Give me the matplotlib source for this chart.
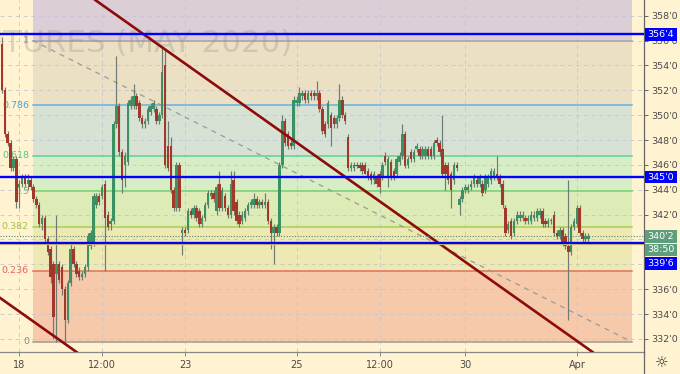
import matplotlib
matplotlib.use('Agg')
import matplotlib.pyplot as plt
import matplotlib.transforms as mtransforms
from matplotlib.lines import Line2D
from matplotlib.patches import Rectangle

# ---------------- data (prices of each hourly bar) ----------------
opens = [355.75, 352.0, 348.5, 347.75, 345.75, 346.5, 344.25, 344.5, 345.0, 344.5,
         344.75, 344.25, 343.25, 342.75, 341.25, 341.75, 340.0, 339.25, 338.0, 337.25,
         338.0, 337.75, 336.0, 333.5, 336.5, 339.25, 338.0, 337.5, 337.0, 337.25,
         337.75, 339.5, 339.75, 342.75, 343.5, 343.5, 344.5, 342.0, 341.25, 341.5,
         349.25, 350.75, 347.0, 346.0, 346.25, 350.75, 350.75, 351.5, 351.0, 349.75,
         349.25, 349.5, 350.25, 350.5, 350.5, 349.5, 350.0, 354.0, 347.5, 347.5,
         344.0, 342.5, 346.0, 340.5, 340.75, 340.75, 342.25, 342.0, 342.5, 342.25,
         341.25, 341.75, 342.75, 343.5, 343.75, 342.25, 344.5, 342.5, 343.5, 342.5,
         342.0, 344.75, 343.0, 342.0, 341.5, 341.75, 342.25, 342.75, 342.75, 343.25,
         342.75, 343.0, 342.75, 343.0, 341.5, 340.5, 341.0, 340.5, 346.0, 349.5,
         348.5, 347.75, 347.5, 351.0, 351.0, 351.5, 351.75, 351.25, 351.75, 351.75,
         351.5, 351.75, 350.5, 349.25, 349.25, 350.0, 349.75, 349.25, 349.75, 351.25,
         350.0, 348.25, 345.75, 345.75, 346.0, 346.0, 346.0, 346.0, 345.5, 345.25,
         344.75, 345.0, 345.25, 345.0, 346.75, 345.0, 346.25, 345.5, 345.25, 346.25,
         346.75, 348.5, 346.0, 347.0, 346.5, 347.25, 347.25, 346.75, 346.75, 347.25,
         347.25, 346.75, 348.0, 347.75, 347.25, 346.0, 346.0, 345.25, 344.75, 346.0,
         342.75, 343.25, 344.0, 344.0, 344.25, 344.5, 344.75, 344.5, 344.5, 344.0,
         344.5, 344.75, 345.0, 345.25, 345.0, 344.5, 342.5, 340.75, 341.5, 340.5,
         341.5, 341.75, 341.75, 341.75, 341.5, 341.5, 341.75, 341.75, 342.0, 342.25,
         341.5, 341.25, 341.5, 342.0, 340.5, 340.25, 340.75, 340.25, 339.5, 339.0,
         341.0, 341.25, 342.5, 340.5, 340.0, 340.0]
highs = [356.25, 352.25, 348.75, 348.0, 346.75, 346.75, 344.75, 345.25, 345.25, 345.25,
         345.0, 344.5, 343.5, 343.0, 342.0, 342.0, 340.25, 339.5, 338.25, 342.0,
         338.25, 338.0, 336.25, 336.75, 339.75, 339.5, 338.25, 337.75, 337.5, 338.0,
         340.5, 340.75, 343.75, 343.75, 343.75, 344.5, 344.75, 342.25, 341.75, 349.5,
         354.75, 351.0, 347.25, 347.0, 351.25, 351.5, 352.5, 351.75, 351.25, 350.0,
         349.75, 350.75, 351.0, 351.25, 350.75, 350.25, 355.5, 355.25, 349.5, 348.25,
         344.25, 346.25, 346.25, 341.0, 341.0, 342.5, 342.5, 342.75, 342.75, 342.5,
         342.0, 343.0, 344.0, 344.0, 344.0, 344.5, 345.5, 344.25, 343.75, 342.75,
         345.5, 345.5, 343.25, 342.25, 342.25, 342.5, 343.0, 343.25, 343.75, 343.5,
         343.25, 343.25, 343.75, 343.25, 341.75, 341.25, 341.25, 346.25, 350.0, 349.75,
         348.75, 348.0, 351.5, 351.5, 352.25, 352.0, 352.0, 352.0, 352.0, 352.0,
         352.75, 352.0, 350.75, 349.5, 351.25, 350.25, 350.0, 350.0, 352.5, 351.5,
         350.25, 348.5, 346.25, 346.25, 346.25, 346.25, 346.25, 346.25, 345.75, 345.5,
         345.5, 345.25, 345.5, 346.25, 347.0, 346.75, 346.5, 345.75, 346.75, 347.0,
         349.25, 348.75, 346.75, 347.25, 347.25, 347.75, 347.5, 347.5, 347.5, 347.5,
         347.5, 348.0, 348.25, 348.0, 350.0, 346.25, 346.25, 345.5, 346.25, 346.25,
         343.5, 344.25, 344.5, 344.5, 344.75, 345.25, 345.0, 345.25, 344.75, 345.25,
         345.25, 345.75, 345.75, 346.75, 345.25, 344.75, 342.75, 341.5, 341.75, 341.75,
         342.25, 342.25, 342.25, 342.0, 342.0, 342.25, 342.25, 342.5, 342.5, 342.5,
         341.75, 341.75, 341.75, 342.25, 340.75, 341.0, 341.0, 340.5, 344.75, 341.25,
         341.75, 342.75, 342.75, 340.75, 340.5, 340.5]
lows = [351.75, 348.25, 347.5, 345.5, 345.5, 342.5, 342.5, 344.25, 344.25, 344.0,
        344.0, 343.0, 342.5, 341.0, 340.75, 339.75, 338.75, 336.5, 332.0, 331.75,
        336.5, 335.5, 331.75, 333.25, 336.25, 337.75, 337.0, 336.75, 336.75, 337.0,
        337.5, 339.25, 339.5, 342.5, 342.75, 343.25, 337.5, 340.75, 340.75, 341.25,
        349.0, 346.75, 343.75, 344.25, 346.0, 350.5, 350.5, 350.5, 349.5, 349.0,
        349.0, 349.25, 350.0, 350.25, 349.25, 349.25, 349.75, 345.75, 345.5, 343.75,
        342.25, 342.25, 342.25, 338.75, 340.25, 340.5, 341.75, 341.75, 341.5, 341.0,
        341.0, 341.5, 342.5, 343.25, 343.0, 342.0, 342.25, 342.25, 342.25, 341.75,
        341.75, 342.0, 341.25, 341.0, 341.25, 341.5, 342.0, 342.5, 342.5, 342.5,
        342.5, 342.5, 342.5, 341.25, 339.25, 338.0, 340.25, 340.25, 345.75, 347.5,
        347.25, 347.25, 347.25, 350.75, 350.75, 351.25, 351.0, 351.0, 351.25, 351.25,
        351.25, 350.25, 348.5, 348.25, 349.0, 347.5, 349.0, 349.0, 349.5, 349.75,
        349.25, 345.5, 345.5, 345.5, 345.75, 345.5, 345.25, 345.25, 344.75, 344.5,
        344.5, 344.25, 343.75, 344.75, 346.0, 344.25, 344.75, 344.75, 345.0, 346.0,
        346.5, 345.75, 345.75, 346.25, 346.25, 347.0, 346.5, 346.5, 346.5, 346.5,
        346.5, 346.5, 347.5, 346.75, 345.0, 344.0, 344.5, 342.5, 344.5, 345.5,
        342.0, 343.0, 343.75, 343.75, 344.0, 344.25, 344.25, 344.25, 343.5, 343.75,
        344.25, 344.5, 344.75, 344.75, 344.25, 342.5, 340.25, 340.5, 340.0, 340.25,
        341.25, 341.5, 341.5, 341.25, 341.25, 341.25, 341.5, 341.5, 341.75, 341.0,
        341.0, 341.0, 341.25, 340.25, 340.0, 340.0, 339.5, 339.25, 333.5, 338.75,
        340.75, 341.0, 340.25, 339.75, 339.75, 339.75]
closes = [352.0, 348.5, 347.75, 345.75, 346.5, 343.0, 344.5, 345.0, 344.5, 344.75,
          344.25, 343.25, 342.75, 341.25, 341.75, 340.0, 339.0, 337.0, 333.75, 338.0,
          336.75, 336.0, 333.5, 336.5, 339.25, 338.0, 337.25, 337.0, 337.25, 337.75,
          340.25, 340.5, 343.5, 343.5, 343.0, 344.25, 341.75, 341.0, 341.5, 349.25,
          350.75, 347.0, 344.75, 346.75, 351.0, 351.25, 351.5, 350.75, 349.75, 349.25,
          349.5, 350.5, 350.75, 351.0, 349.5, 350.0, 353.5, 346.0, 345.75, 344.0,
          342.5, 346.0, 342.5, 340.75, 340.5, 342.25, 342.0, 342.5, 341.75, 341.25,
          341.75, 342.75, 343.75, 343.75, 343.25, 344.25, 342.5, 344.0, 342.5, 342.0,
          344.5, 342.25, 341.5, 341.25, 342.0, 342.25, 342.75, 343.0, 343.25, 342.75,
          343.0, 342.75, 343.0, 341.5, 340.5, 341.0, 340.5, 346.0, 349.5, 347.75,
          347.5, 347.5, 351.25, 351.25, 351.75, 351.75, 351.25, 351.75, 351.5, 351.5,
          351.75, 350.5, 348.75, 348.5, 351.0, 349.0, 349.25, 349.75, 351.25, 350.0,
          349.5, 345.75, 346.0, 346.0, 345.9, 345.75, 345.5, 345.25, 345.0, 344.75,
          345.25, 344.5, 344.25, 346.0, 346.25, 346.5, 345.0, 345.0, 346.5, 346.75,
          348.5, 345.9, 346.5, 346.5, 347.0, 347.5, 346.75, 347.25, 347.25, 346.75,
          346.75, 347.75, 347.75, 347.0, 345.25, 345.25, 344.75, 344.0, 346.0, 345.75,
          343.25, 344.0, 344.25, 344.25, 344.5, 345.0, 344.5, 345.0, 343.75, 345.0,
          345.0, 345.5, 345.5, 345.0, 344.5, 342.75, 340.5, 341.25, 340.25, 341.5,
          342.0, 342.0, 342.0, 341.5, 341.75, 342.0, 342.0, 342.25, 342.25, 341.25,
          341.25, 341.5, 341.5, 340.5, 340.25, 340.75, 339.75, 339.5, 339.0, 341.0,
          341.5, 342.5, 340.5, 340.0, 340.25, 340.25]

x_tick_bars = [6, 35, 64, 103, 132, 162, 201]
x_tick_labels = ['18', '12:00', '23', '25', '12:00', '30', 'Apr']
price_ticks = [332, 334, 336, 338, 340, 342, 344, 346, 348, 350, 352, 354, 356, 358]
hidden_price_labels = [338, 340]   # covered by the price boxes in the reference

fib_low = 331.75
fib_high = 356.0
fib_bars = [10.8, 220.3]
fib_ratios = [0, 0.236, 0.382, 0.5, 0.618, 0.786, 1, 1.272]
fib_labels = ['0', '0.236', '0.382', '0.5', '0.618', '0.786', '1', '']

blue_levels = [356.5, 345.0, 339.75]
blue_texts = ["356'4", "345'0", "339'6"]
yellow_level = 339.6
last_price = 340.25
last_text = "340'2"
countdown_text = "38:50"
trend_points = [(33.6, 359.1), (200.0, 332.0)]
parallel_point = (-0.7, 335.3)
watermark = "CORN FUTURES (MAY 2020)"

# ---------------- styling ----------------
BG = '#FFF3D1'
UP = '#3B9161'
DN = '#A3382A'
WICK = '#6f7b72'
BLUE = '#0000FF'
GREEN_BOX = '#5E9E7C'
fib_line_colors = ['#9c9c9c', '#e2705f', '#a9cf52', '#72d46c', '#5fcf9c', '#62b2e0', '#a8a0a6', '#a8a0a6']
fib_label_colors = ['#8c8c8c', '#e0685a', '#a3c444', '#5fc85c', '#52c48f', '#4da3d8', '#999999', '#999999']
fib_fill_colors = ['#F5C9AA', '#EEE8B2', '#DDEBB6', '#D7EDC6', '#D7E2D4', '#EBDFC4', '#DCCED6']

W, H = 680, 374
fig = plt.figure(figsize=(W / 100, H / 100), dpi=100, facecolor=BG)
ax = fig.add_axes([0, 22 / H, 644 / W, 352 / H])
ax.set_facecolor(BG)

step = 2.86
ax.set_xlim(-2 / step, (644 - 2) / step)
px_per_unit = 12.43
ax.set_ylim(358 - (352 - 15.7) / px_per_unit, 358 + 15.7 / px_per_unit)

# fib zones
rng = fib_high - fib_low
levels = [fib_low + r * rng for r in fib_ratios]
for i in range(len(levels) - 1):
    ax.fill_between(fib_bars, levels[i], levels[i + 1], color=fib_fill_colors[i], lw=0, zorder=0.5)
for i, lv in enumerate(levels[:-1]):
    ax.plot(fib_bars, [lv, lv], color=fib_line_colors[i], lw=1.1, zorder=0.9)
    ax.text(fib_bars[0] - 1.4, lv, fib_labels[i], ha='right', va='center', fontsize=6.8,
            color=fib_label_colors[i], zorder=1)
ax.plot(fib_bars, [fib_high, fib_low], color='#9a9a9a', lw=0.9, ls=(0, (4, 4)), zorder=1.2)

# grid
for p in price_ticks:
    ax.axhline(p, color='#bfc4d6', lw=0.7, ls=(0, (4, 4)), alpha=0.8, zorder=0.8)
for t in x_tick_bars:
    ax.axvline(t, color='#bfc4d6', lw=0.7, ls=(0, (4, 4)), alpha=0.8, zorder=0.8)

# watermark
ax.text(292 / 644, 1 - 44 / 352, watermark, transform=ax.transAxes, ha='right', va='center',
        fontsize=22.3, color='#8f8a80', alpha=0.28, zorder=1.1)

# candles
xs = list(range(len(closes)))
ax.vlines(xs, lows, highs, color=WICK, lw=0.85, zorder=2)
bottoms = [min(o, c) for o, c in zip(opens, closes)]
heights = [max(abs(c - o), 0.1) for o, c in zip(opens, closes)]
cols = [UP if c >= o else DN for o, c in zip(opens, closes)]
ax.bar(xs, heights, bottom=bottoms, width=0.86, color=cols, lw=0, zorder=2.2)

# trend lines
(x1, y1), (x2, y2) = trend_points
slope = (y2 - y1) / (x2 - x1)
ax.axline((x1, y1), (x2, y2), color='#8E0B0B', lw=1.9, zorder=3)
ax.axline(parallel_point, slope=slope, color='#8E0B0B', lw=1.9, zorder=3)

# horizontal levels
ax.axhline(last_price, color='#4b8f6a', lw=0.8, ls=(0, (1, 1.5)), zorder=3)
ax.axhline(yellow_level, color='#e6d64a', lw=0.9, zorder=3.1)
for lv in blue_levels:
    ax.axhline(lv, color=BLUE, lw=1.7, zorder=3.2)

# axes styling
for s in ['top', 'left']:
    ax.spines[s].set_visible(False)
ax.spines['right'].set_color('#666666')
ax.spines['bottom'].set_color('#888888')
ax.spines['right'].set_linewidth(0.9)
ax.spines['bottom'].set_linewidth(0.9)
ax.yaxis.tick_right()
ax.set_yticks(price_ticks)
ax.set_yticklabels(['' if p in hidden_price_labels else f"{p}'0" for p in price_ticks])
ax.tick_params(axis='y', direction='out', length=3, width=0.7, color='#666666',
               labelsize=6.8, labelcolor='#4a4a4a', pad=2)
ax.set_xticks(x_tick_bars)
ax.set_xticklabels(x_tick_labels)
ax.tick_params(axis='x', direction='out', length=3, width=0.7, color='#888888',
               labelsize=7, labelcolor='#4a4a4a', pad=3)

# right-axis price labels (drawn in pixel space, anchored on the data level)
ident = mtransforms.IdentityTransform()
def price_box(val, text, fc, shift_px=0.0):
    ypix = ax.transData.transform((0, val))[1] - shift_px
    fig.add_artist(Rectangle((645, ypix - 6.2), 32, 12.4, transform=ident,
                             facecolor=fc, edgecolor='none', zorder=6))
    fig.text(661 / W, ypix / H, text, ha='center', va='center', fontsize=6.8,
             color='white', zorder=7)

price_box(blue_levels[0], blue_texts[0], BLUE)
price_box(blue_levels[1], blue_texts[1], BLUE)
price_box(last_price, last_text, GREEN_BOX)
price_box(last_price, countdown_text, GREEN_BOX, shift_px=13.5)
price_box(last_price, blue_texts[2], BLUE, shift_px=27.0)

# right axis extension and gear icon
fig.add_artist(Line2D([644 / W, 644 / W], [0, 22 / H], color='#666666', lw=0.9))
fig.text(662 / W, 1 - 363 / H, '\u263c', ha='center', va='center', fontsize=11, color='#333333')

fig.savefig('out.png', dpi=100, facecolor=BG)
